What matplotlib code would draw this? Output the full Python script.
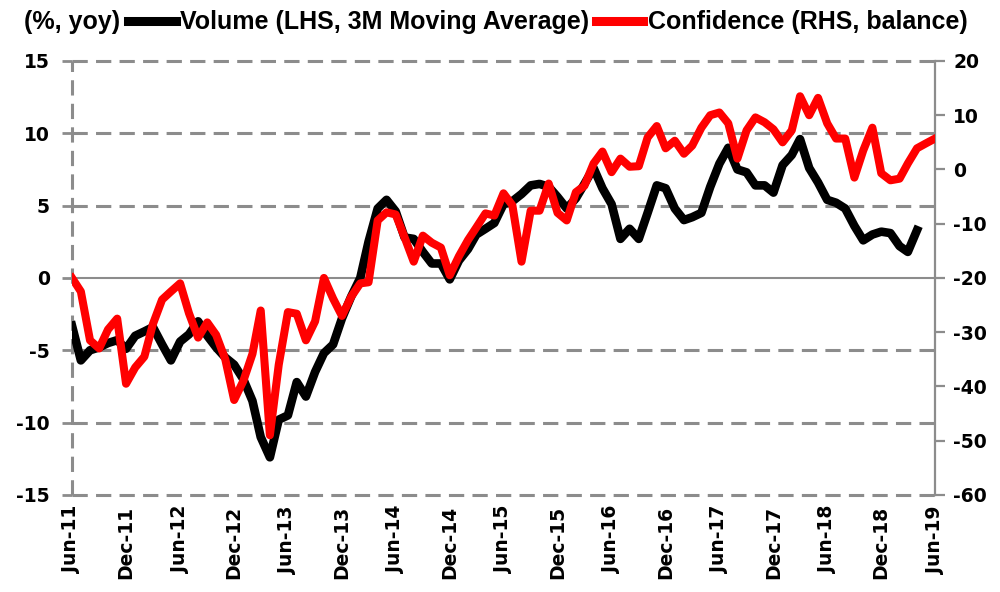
import numpy as np
import pandas as pd
import matplotlib
matplotlib.use("Agg")
from matplotlib import pyplot as plt
from matplotlib.lines import Line2D

# monthly data, starting Jun-11
volume = [-3.3, -5.7, -5.0, -4.8, -4.5, -4.3, -4.9, -4.0, -3.7, -3.4,
          -4.6, -5.7, -4.4, -3.9, -3.0, -4.0, -4.8, -5.5, -6.0, -7.0,
          -8.5, -11.0, -12.4, -9.8, -9.5, -7.2, -8.2, -6.5, -5.2, -4.6,
          -2.8, -1.3, 0.0, 2.5, 4.8, 5.4, 4.6, 2.8, 2.7, 1.8,
          1.0, 1.0, -0.1, 1.2, 2.0, 3.0, 3.4, 3.8, 5.1, 5.3,
          5.8, 6.4, 6.5, 6.3, 5.6, 4.8, 5.5, 6.5, 7.6, 6.2,
          5.1, 2.7, 3.4, 2.7, 4.5, 6.4, 6.2, 4.8, 4.0, 4.2,
          4.5, 6.3, 7.9, 9.0, 7.5, 7.3, 6.4, 6.4, 5.9, 7.8,
          8.5, 9.6, 7.6, 6.6, 5.4, 5.2, 4.8, 3.6, 2.6, 3.0,
          3.2, 3.1, 2.2, 1.8, 3.3]

confidence = [-20.0, -22.5, -31.5, -33.0, -29.5, -27.5, -39.5, -36.5, -34.5, -28.5,
              -24.0, -22.5, -21.0, -26.5, -31.0, -28.2, -30.5, -35.0, -42.5, -39.0,
              -34.0, -26.0, -49.0, -36.0, -26.3, -26.6, -31.5, -28.0, -20.0, -23.8,
              -27.0, -23.5, -21.0, -20.8, -9.4, -7.9, -8.3, -12.5, -17.0, -12.2,
              -13.5, -14.4, -19.5, -16.0, -13.0, -10.7, -8.1, -8.5, -4.4, -6.6,
              -17.0, -7.6, -7.6, -2.6, -8.0, -9.4, -4.2, -3.0, 1.1, 3.3,
              -0.5, 2.0, 0.5, 0.6, 5.9, 8.0, 3.9, 5.3, 2.9, 4.4,
              7.7, 10.0, 10.5, 8.5, 2.0, 7.2, 9.6, 8.7, 7.4, 5.0,
              7.2, 13.5, 10.0, 13.2, 8.5, 5.7, 5.7, -1.5, 3.5, 7.7,
              -0.7, -2.0, -1.7, 1.1, 3.9, 4.8, 5.7]

left_ticks = [-15, -10, -5, 0, 5, 10, 15]
right_ticks = [-60, -50, -40, -30, -20, -10, 0, 10, 20]

dates_c = pd.date_range("2011-06-01", periods=len(confidence), freq="MS")
dates_v = dates_c[:len(volume)]
xticks = pd.date_range("2011-06-01", "2019-06-01", freq="6MS")

grey = "#8c8c8c"
tick_font = dict(family=["DejaVu Sans"], weight="bold", size=13.5)
leg_font = ["Liberation Sans Narrow", "Liberation Sans", "DejaVu Sans"]

fig = plt.figure(figsize=(10, 5.92), dpi=100)
ax = fig.add_axes([0.072, 0.164, 0.863, 0.733])
ax2 = ax.twinx()

# gridlines (dashed) at left ticks except zero, which is the solid axis line
for v in left_ticks:
    if v == 0:
        ax.axhline(v, color=grey, lw=1.5, zorder=1)
    else:
        ax.axhline(v, color=grey, lw=2.2, dashes=(5, 2.7), zorder=1, clip_on=False)

ax.plot(dates_v, volume, color="black", lw=6.2, solid_joinstyle="round", zorder=3)
ax2.plot(dates_c, confidence, color="red", lw=5.8, solid_joinstyle="round", zorder=3)

ax.set_xlim(dates_c[0], dates_c[-1])
ax.set_ylim(-15, 15)
ax2.set_ylim(-60, 20)
ax.set_yticks(left_ticks)
ax2.set_yticks(right_ticks)
ax.set_xticks(xticks)
ax.set_xticklabels([d.strftime("%b-%y") for d in xticks], rotation=90, **tick_font)
ax.set_yticklabels([str(v) for v in left_ticks], **tick_font)
ax2.set_yticklabels([str(v) for v in right_ticks], **tick_font)

for a in (ax, ax2):
    for s in a.spines.values():
        s.set_visible(False)

# left axis drawn as a dashed vertical line
ax.axvline(dates_c[0], color=grey, lw=2.2, dashes=(5, 2.7), zorder=1, clip_on=False)
ax2.spines["right"].set_visible(True)
ax2.spines["right"].set_color(grey)
ax2.spines["right"].set_linewidth(1.6)

ax.tick_params(axis="y", direction="out", length=7, width=2, color=grey, pad=9)
ax2.tick_params(axis="y", direction="out", length=7, width=1.6, color=grey, pad=6)
ax.tick_params(axis="x", length=0, pad=8)

fig.text(0.024, 0.962, "(%, yoy)", family=leg_font, weight="bold", size=18, va="center")
handles = [Line2D([], [], color="black", lw=6.5),
           Line2D([], [], color="red", lw=6.5)]
fig.legend(handles, ["Volume (LHS, 3M Moving Average)", "Confidence (RHS, balance)"],
           loc="center left", bbox_to_anchor=(0.128, 0.962), ncol=2, frameon=False,
           handlelength=1.9, handletextpad=0.2, columnspacing=0.25,
           borderaxespad=0, borderpad=0,
           prop=dict(family=leg_font, weight="bold", size=18))

plt.savefig("out.png", dpi=100)
plt.close()
